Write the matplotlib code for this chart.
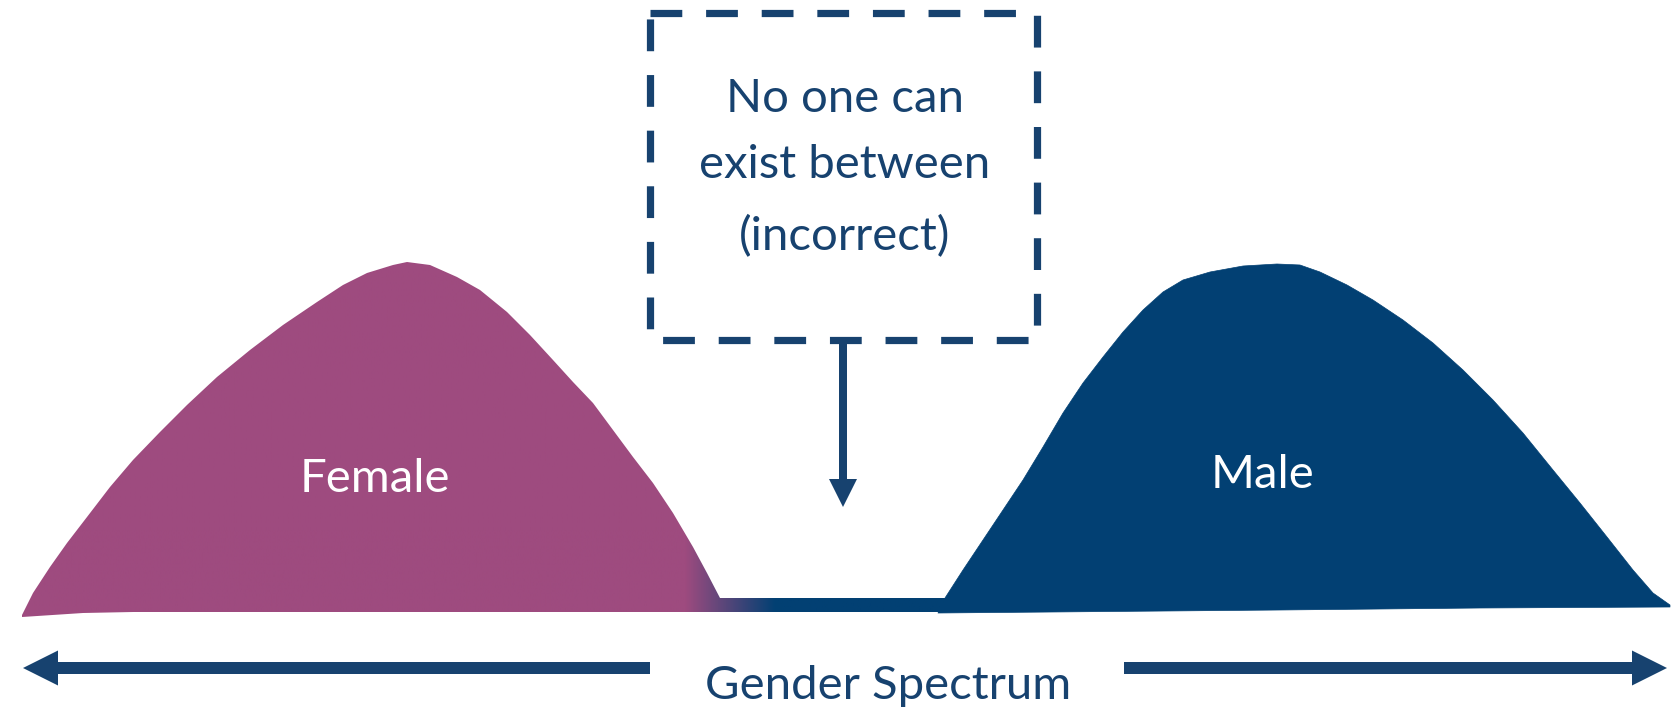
import numpy as np
import matplotlib
matplotlib.use("Agg")
import matplotlib.pyplot as plt
from matplotlib.patches import Polygon, Rectangle, FancyArrow
from matplotlib.colors import to_rgb

# outline of the "Female" hump (pixels, y down)
female_x = [22, 33, 50, 67, 87, 110, 133, 160, 187, 217, 250, 283, 317, 343,
            367, 393, 407, 430, 457, 480, 507, 530, 553, 573, 593, 613, 633,
            653, 673, 693, 707, 720]
female_y = [615, 593, 567, 543, 517, 487, 460, 432, 405, 377, 350, 325, 302, 285,
            273, 265, 262, 265, 277, 290, 312, 335, 360, 382, 403, 430, 457,
            483, 513, 547, 573, 598]

# thin band that joins the two humps, plus the flat bottom edge
bridge_x = [945, 945, 720, 133, 83, 22]
bridge_y = [598, 612, 612, 612, 613, 617]

# outline of the "Male" hump
male_x = [945, 963, 983, 1003, 1023, 1043, 1063, 1083, 1103, 1123, 1143, 1163,
          1183, 1210, 1243, 1277, 1300, 1320, 1347, 1373, 1403, 1433, 1463,
          1493, 1523, 1553, 1580, 1607, 1633, 1653, 1670, 1670, 1480, 1280, 938]
male_y = [598, 570, 540, 510, 480, 447, 413, 383, 357, 332, 310, 292,
          280, 272, 266, 264, 265, 272, 285, 300, 320, 343, 370,
          400, 433, 470, 503, 537, 570, 593, 605, 607, 608, 610, 613]

box_lines = ["No one can", "exist between", "(incorrect)"]
labels = ["Female", "Male"]
axis_label = "Gender Spectrum"

PURPLE = "#9E4B7F"
BLUE = "#024073"
NAVY = "#17426F"

plt.rcParams["font.family"] = ["Lato", "DejaVu Sans"]

fig = plt.figure(figsize=(16.81, 7.07), dpi=100, facecolor="white")
ax = fig.add_axes([0, 0, 1, 1])
ax.set_xlim(0, 1681)
ax.set_ylim(707, 0)
ax.axis("off")

# female hump + bridge, purple fading into blue on the right
outline = np.column_stack([female_x + bridge_x, female_y + bridge_y])
shape = Polygon(outline, closed=True, facecolor="none", edgecolor="none")
ax.add_patch(shape)
p, b = np.array(to_rgb(PURPLE)), np.array(to_rgb(BLUE))
cols = np.linspace(0, 1681, 1000)
t = np.clip((cols - 685) / 90, 0, 1)[None, :, None]
grad = (1 - t) * p + t * b
grad = np.repeat(grad, 2, axis=0)
im = ax.imshow(grad, extent=(0, 1681, 707, 0), aspect="auto", zorder=1)
im.set_clip_path(shape)

ax.add_patch(Polygon(np.column_stack([male_x, male_y]), closed=True,
                     facecolor=BLUE, edgecolor=BLUE, lw=0.5,
                     joinstyle="round", zorder=2))

ax.text(375, 492, labels[0], color="white", fontsize=34, ha="center",
        va="baseline", zorder=3)
ax.text(1263, 488, labels[1], color="white", fontsize=34, ha="center",
        va="baseline", zorder=3)

# dashed callout box
ax.add_patch(Rectangle((650, 13), 387, 327, fill=False, edgecolor=NAVY,
                       lw=5.2, linestyle=(0, (4.4, 3.3)), joinstyle="miter",
                       capstyle="butt", zorder=3))
for line, yb in zip(box_lines, [112, 178, 250]):
    ax.text(845, yb, line, color=NAVY, fontsize=34, ha="center",
            va="baseline", zorder=3)

# arrow down from the box
ax.add_patch(FancyArrow(843, 341, 0, 166, width=8, head_width=28,
                        head_length=28, length_includes_head=True,
                        color=NAVY, lw=0, zorder=3))

# spectrum axis arrows
ax.add_patch(FancyArrow(650, 668, -627, 0, width=12, head_width=35,
                        head_length=35, length_includes_head=True,
                        color=NAVY, lw=0, zorder=3))
ax.add_patch(FancyArrow(1124, 668, 543, 0, width=12, head_width=35,
                        head_length=35, length_includes_head=True,
                        color=NAVY, lw=0, zorder=3))
ax.text(888, 699, axis_label, color=NAVY, fontsize=34, ha="center",
        va="baseline", zorder=3)

plt.savefig("out.png", dpi=100, facecolor="white")
